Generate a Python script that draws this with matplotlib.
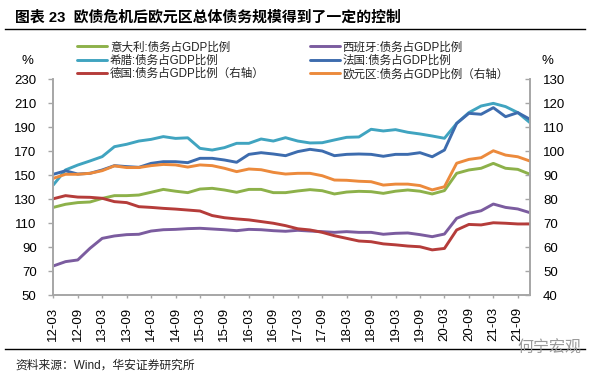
import numpy as np
import matplotlib.pyplot as plt
from matplotlib.lines import Line2D

plt.rcParams['font.family'] = ['Liberation Sans', 'Noto Sans CJK SC']

# quarterly, 2012Q1 .. 2021Q4
quarters = [f'{y:02d}-{m:02d}' for y in range(12, 22) for m in (3, 6, 9, 12)]
tick_labels = ['12-03', '12-09', '13-03', '13-09', '14-03', '14-09', '15-03', '15-09',
               '16-03', '16-09', '17-03', '17-09', '18-03', '18-09', '19-03', '19-09',
               '20-03', '20-09', '21-03', '21-09']

# left axis, % of GDP
italy = [123.0, 125.6, 127.0, 127.5, 130.5, 132.8, 132.8, 133.3, 135.6, 138.0,
         136.5, 135.3, 138.3, 138.9, 137.5, 135.6, 138.0, 138.0, 135.3, 135.3,
         136.7, 137.8, 136.9, 134.2, 135.8, 136.4, 136.1, 134.7, 136.5, 137.5,
         136.5, 134.2, 137.0, 151.4, 154.2, 155.6, 159.7, 155.6, 154.7, 150.6]
spain = [74.2, 77.8, 79.2, 88.9, 97.2, 99.2, 100.3, 100.6, 103.3, 104.4,
         104.7, 105.3, 105.6, 105.0, 104.4, 103.6, 104.7, 104.4, 103.6, 103.1,
         103.9, 103.3, 102.8, 102.2, 102.8, 102.2, 102.2, 100.6, 101.4, 101.7,
         100.3, 98.6, 100.8, 113.9, 118.0, 120.2, 125.8, 123.0, 121.7, 118.6]
greece = [141.7, 154.2, 158.3, 161.7, 165.3, 173.6, 175.6, 178.3, 179.7, 182.0,
          180.5, 181.0, 172.2, 170.8, 172.8, 176.4, 176.4, 180.0, 178.3, 181.1,
          178.3, 176.7, 176.9, 179.2, 181.4, 181.7, 188.1, 186.7, 187.8, 185.6,
          184.2, 182.5, 180.6, 193.0, 202.0, 207.5, 209.7, 207.0, 202.0, 193.6]
france = [150.6, 153.5, 150.8, 151.4, 154.2, 157.8, 157.0, 156.4, 159.7, 161.1,
          161.1, 160.3, 163.9, 163.9, 162.5, 160.6, 167.2, 168.6, 167.5, 166.1,
          169.5, 171.4, 170.0, 166.1, 167.2, 167.5, 167.2, 165.6, 167.2, 167.2,
          168.6, 165.2, 170.8, 193.0, 201.4, 200.6, 206.1, 198.6, 202.0, 196.4]
# right axis, % of GDP
germany = [80.1, 81.4, 80.8, 80.7, 80.3, 78.9, 78.5, 76.8, 76.5, 76.1,
           75.8, 75.4, 75.0, 73.1, 72.2, 71.7, 71.3, 70.6, 69.9, 68.9,
           67.6, 67.1, 66.1, 64.7, 63.6, 62.5, 62.2, 61.3, 60.9, 60.4,
           60.1, 58.8, 59.4, 67.1, 69.4, 69.2, 70.1, 69.9, 69.6, 69.6]
eurozone = [88.6, 90.3, 90.3, 90.7, 91.8, 93.8, 93.1, 93.1, 93.9, 94.4,
            94.2, 93.3, 94.2, 93.9, 92.8, 91.4, 92.5, 92.2, 91.1, 90.4,
            90.7, 90.7, 89.7, 87.9, 87.8, 87.4, 87.2, 85.8, 86.2, 86.2,
            85.6, 83.8, 85.1, 94.9, 96.5, 97.2, 100.1, 98.3, 97.6, 95.8]

W, H = 589, 375
fig = plt.figure(figsize=(W / 100, H / 100), dpi=100)
ax = fig.add_axes([53.3 / W, 1 - 295 / H, (530 - 53.3) / W, (295 - 79) / H])
ax2 = ax.twinx()

x = np.arange(len(quarters))
lw = 2.1
kw = dict(lw=lw, solid_joinstyle='round', solid_capstyle='round')
l_it, = ax.plot(x, italy, color='#8db14a', **kw)
l_es, = ax.plot(x, spain, color='#7b5c9f', **kw)
l_gr, = ax.plot(x, greece, color='#40a4c0', **kw)
l_fr, = ax.plot(x, france, color='#3d6cae', **kw)
l_de, = ax2.plot(x, germany, color='#b53c3a', **kw)
l_ez, = ax2.plot(x, eurozone, color='#ec8a3c', **kw)

grey = '#a6a6a6'
ax.set_xlim(0, len(quarters) - 1)
ax.set_ylim(50, 230)
ax.set_yticks(np.arange(50, 231, 20))
ax2.set_ylim(40, 130)
ax2.set_yticks(np.arange(40, 131, 10))
ax.set_xticks(x[::2])
ax.set_xticklabels(tick_labels, rotation=90)

for a in (ax, ax2):
    a.spines['top'].set_visible(False)
    for s in ('left', 'right', 'bottom'):
        a.spines[s].set_color(grey)
        a.spines[s].set_linewidth(1.2)
ax.tick_params(axis='y', direction='out', length=3.6, width=1, color=grey, pad=8.4,
               labelsize=9.5)
ax.tick_params(axis='x', direction='out', length=2.5, width=1, color=grey, pad=6,
               labelsize=9.5)
ax2.tick_params(axis='y', direction='in', length=3.6, width=1, color=grey, pad=9.4,
                labelsize=9.5)

handles = [l_it, l_gr, l_de, l_es, l_fr, l_ez]
labels = ['意大利:债务占GDP比例', '希腊:债务占GDP比例', '德国:债务占GDP比例（右轴）',
          '西班牙:债务占GDP比例', '法国:债务占GDP比例', '欧元区:债务占GDP比例（右轴）']
leg = fig.legend(handles, labels, ncol=2, loc='upper left',
                 bbox_to_anchor=(77 / W, 1 - 41.5 / H), frameon=False,
                 fontsize=8.3, handlelength=2.6, handletextpad=0.25,
                 columnspacing=3.9, labelspacing=0.12, borderpad=0, borderaxespad=0)
for t in leg.get_texts():
    t.set_color('#222222')

fig.text(27 / W, 1 - 61 / H, '%', fontsize=9.5, ha='center', va='center')
fig.text(547 / W, 1 - 61 / H, '%', fontsize=9.5, ha='center', va='center')

fig.text(15 / W, 1 - 17 / H, '图表 23  欧债危机后欧元区总体债务规模得到了一定的控制',
         fontsize=10.7, fontweight='bold', va='center')
fig.add_artist(Line2D([5 / W, 585 / W], [1 - 29 / H] * 2, color='black', lw=1))
fig.add_artist(Line2D([5 / W, 585 / W], [1 - 349 / H] * 2, color='black', lw=1))
fig.text(15 / W, 1 - 366 / H, '资料来源：Wind，华安证券研究所', fontsize=8.5, va='center',
         color='#222222')
fig.text(549 / W, 1 - 348 / H, '何宁宏观', fontsize=11.5, ha='center', va='center',
         color='#9a9a9a')

fig.savefig('out.png', dpi=100)
